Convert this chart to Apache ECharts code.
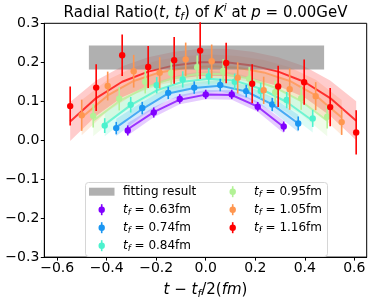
<!DOCTYPE html>
<html><head><meta charset="utf-8">
<script src="https://cdn.jsdelivr.net/npm/echarts@6/dist/echarts.min.js"></script>
<style>html,body{margin:0;padding:0;background:#fff}#c{width:373px;height:305px}</style>
</head><body><div id="c"></div>
<script>
// ---------- data ----------
const tfLabels = ['0.63', '0.74', '0.84', '0.95', '1.05', '1.16'];
const colors = ['#8000ff', '#1a96f2', '#4cf2ce', '#b2f296', '#ff964f', '#ff0000'];

const tau063 = [-0.315, -0.21, -0.105, 0.0, 0.105, 0.21, 0.315];
const val063 = [0.025, 0.071, 0.106, 0.1175, 0.1175, 0.086, 0.035];
const err063 = [0.013, 0.013, 0.012, 0.012, 0.012, 0.012, 0.013];
const fit063 = [0.028, 0.072, 0.104, 0.117, 0.116, 0.086, 0.034];
const band063 = [0.016, 0.013, 0.012, 0.012, 0.012, 0.013, 0.016];

const tau074 = [-0.3615, -0.2565, -0.1515, -0.0465, 0.0585, 0.1635, 0.2685, 0.3735];
const val074 = [0.031, 0.0825, 0.1215, 0.135, 0.1415, 0.126, 0.0915, 0.043];
const err074 = [0.016, 0.016, 0.016, 0.016, 0.016, 0.016, 0.017, 0.018];
const fit074 = [0.033, 0.080, 0.120, 0.134, 0.140, 0.125, 0.092, 0.043];
const band074 = [0.022, 0.018, 0.016, 0.015, 0.015, 0.016, 0.018, 0.022];

const tau084 = [-0.408, -0.303, -0.198, -0.093, 0.012, 0.117, 0.222, 0.327, 0.432];
const val084 = [0.0375, 0.091, 0.141, 0.156, 0.164, 0.150, 0.1265, 0.103, 0.056];
const err084 = [0.019, 0.02, 0.021, 0.021, 0.021, 0.021, 0.021, 0.021, 0.022];
const fit084 = [0.040, 0.090, 0.128, 0.150, 0.158, 0.153, 0.132, 0.098, 0.050];
const band084 = [0.030, 0.026, 0.022, 0.020, 0.020, 0.020, 0.022, 0.026, 0.030];

const tau095 = [-0.4545, -0.3495, -0.2445, -0.1395, -0.0345, 0.0705, 0.1755, 0.2805, 0.3855, 0.4905];
const val095 = [0.0625, 0.1065, 0.150, 0.1725, 0.1875, 0.178, 0.158, 0.123, 0.108, 0.060];
const err095 = [0.03, 0.03, 0.03, 0.03, 0.03, 0.03, 0.03, 0.03, 0.03, 0.03];
const fit095 = [0.050, 0.100, 0.135, 0.158, 0.170, 0.170, 0.158, 0.135, 0.100, 0.050];
const band095 = [0.040, 0.034, 0.030, 0.027, 0.025, 0.025, 0.027, 0.030, 0.034, 0.040];

const tau105 = [-0.501, -0.396, -0.291, -0.186, -0.081, 0.024, 0.129, 0.234, 0.339, 0.444, 0.549];
const val105 = [0.064, 0.139, 0.177, 0.173, 0.2075, 0.2025, 0.160, 0.128, 0.131, 0.113, 0.0465];
const err105 = [0.040, 0.037, 0.042, 0.040, 0.043, 0.043, 0.040, 0.035, 0.053, 0.036, 0.033];
const fit105 = [0.058, 0.115, 0.152, 0.174, 0.186, 0.190, 0.186, 0.174, 0.152, 0.115, 0.058];
const band105 = [0.045, 0.040, 0.035, 0.032, 0.030, 0.030, 0.030, 0.032, 0.035, 0.040, 0.045];

const tau116 = [-0.5475, -0.4425, -0.3375, -0.2325, -0.1275, -0.0225, 0.0825, 0.1875, 0.2925, 0.3975, 0.5025, 0.6075];
const val116 = [0.0875, 0.135, 0.218, 0.188, 0.205, 0.230, 0.198, 0.145, 0.138, 0.149, 0.085, 0.020];
const err116 = [0.050, 0.060, 0.053, 0.054, 0.060, 0.073, 0.052, 0.050, 0.053, 0.058, 0.049, 0.057];
const fit116 = [0.048, 0.108, 0.150, 0.176, 0.192, 0.200, 0.200, 0.192, 0.176, 0.150, 0.108, 0.050];
const band116 = [0.050, 0.045, 0.040, 0.037, 0.035, 0.035, 0.035, 0.035, 0.037, 0.040, 0.045, 0.050];

const fitRangeX = [-0.472, 0.478];
const fitRangeY = [0.1815, 0.243];

const xTicks = [-0.6, -0.4, -0.2, 0.0, 0.2, 0.4, 0.6];

const groups = [
  [tau063, val063, err063, fit063, band063],
  [tau074, val074, err074, fit074, band074],
  [tau084, val084, err084, fit084, band084],
  [tau095, val095, err095, fit095, band095],
  [tau105, val105, err105, fit105, band105],
  [tau116, val116, err116, fit116, band116]
];

// ---------- helpers ----------
function rgba(hex, a) {
  const r = parseInt(hex.slice(1, 3), 16), g = parseInt(hex.slice(3, 5), 16), b = parseInt(hex.slice(5, 7), 16);
  return 'rgba(' + r + ',' + g + ',' + b + ',' + a + ')';
}
function fmt(v) {
  const s = Math.abs(v).toFixed(1);
  return (v < -1e-9 ? '\u2212' : '') + s;
}
const FONT = 'DejaVu Sans';

const series = [];
groups.forEach((g, k) => {
  const [tau, val, err, fit, band] = g;
  const col = colors[k];
  // band
  series.push({
    type: 'custom', z: 1, silent: true,
    data: tau.map((t, i) => [t, fit[i] - band[i], fit[i] + band[i]]),
    encode: { x: 0, y: [1, 2] },
    renderItem: function (params, api) {
      if (params.dataIndex !== 0) return null;
      const up = [], lo = [];
      for (let i = 0; i < tau.length; i++) {
        up.push(api.coord([tau[i], fit[i] + band[i]]));
        lo.push(api.coord([tau[i], fit[i] - band[i]]));
      }
      return { type: 'polygon', shape: { points: up.concat(lo.reverse()) }, style: { fill: rgba(col, 0.2) } };
    }
  });
  // fit line
  series.push({
    type: 'line', z: 2, silent: true, showSymbol: false, symbol: 'none',
    data: tau.map((t, i) => [t, fit[i]]),
    lineStyle: { color: col, width: 2, opacity: 0.75 }
  });
  // error bars + points
  series.push({
    type: 'custom', z: 5, silent: true,
    data: tau.map((t, i) => [t, val[i], err[i]]),
    encode: { x: 0, y: 1 },
    renderItem: function (params, api) {
      const x = api.value(0), y = api.value(1), e = api.value(2);
      const p = api.coord([x, y]), a = api.coord([x, y - e]), b = api.coord([x, y + e]);
      return {
        type: 'group', children: [
          { type: 'line', shape: { x1: p[0], y1: a[1], x2: p[0], y2: b[1] }, style: { stroke: col, lineWidth: 1.6 } },
          { type: 'circle', shape: { cx: p[0], cy: p[1], r: 3.2 }, style: { fill: col } }
        ]
      };
    }
  });
});
// fitting result box
series.push({
  type: 'custom', z: 3, silent: true,
  data: [[fitRangeX[0], fitRangeX[1], fitRangeY[0], fitRangeY[1]]],
  encode: { x: [0, 1], y: [2, 3] },
  renderItem: function (params, api) {
    const a = api.coord([api.value(0), api.value(3)]);
    const b = api.coord([api.value(1), api.value(2)]);
    return { type: 'rect', shape: { x: a[0], y: a[1], width: b[0] - a[0], height: b[1] - a[1] }, style: { fill: 'rgba(128,128,128,0.62)' } };
  }
});

// ---------- legend (graphic) ----------
const richLeg = {
  i: { fontStyle: 'italic', fontSize: 12, fontFamily: FONT, lineHeight: 16, fill: '#000' },
  sub: { fontStyle: 'italic', fontSize: 8.5, fontFamily: FONT, lineHeight: 10, verticalAlign: 'bottom', fill: '#000' }
};
const legendEls = [];
legendEls.push({ type: 'rect', shape: { x: 85.5, y: 182.5, width: 242, height: 74, r: 3 }, style: { fill: 'rgba(255,255,255,0.8)', stroke: '#d6d6d6', lineWidth: 1 }, z: 100 });
const legendItems = [{ label: 'fitting result', box: true }].concat(tfLabels.map((t, k) => ({ label: '{i|t}{sub|f} = ' + t + 'fm', color: colors[k] })));
legendItems.forEach((it, n) => {
  const col = n < 4 ? 0 : 1, row = n < 4 ? n : n - 4;
  const hx = col === 0 ? 101.7 : 232.7, tx = col === 0 ? 123 : 254;
  const cy = 191.7 + row * 18;
  if (it.box) {
    legendEls.push({ type: 'rect', shape: { x: 89, y: cy - 4, width: 25.5, height: 8 }, style: { fill: 'rgba(128,128,128,0.62)' }, z: 101 });
  } else {
    legendEls.push({ type: 'line', shape: { x1: hx, y1: cy - 5.5, x2: hx, y2: cy + 5.5 }, style: { stroke: it.color, lineWidth: 1.6 }, z: 101 });
    legendEls.push({ type: 'circle', shape: { cx: hx, cy: cy, r: 3.2 }, style: { fill: it.color }, z: 101 });
  }
  legendEls.push({ type: 'text', x: tx, y: cy, z: 101, style: { text: it.label, rich: richLeg, fontSize: 12, fontFamily: FONT, lineHeight: 16, fill: '#000', align: 'left', verticalAlign: 'middle' } });
});

// title
const titleEl = {
  type: 'text', x: 205.5, y: 13, z: 100,
  style: {
    text: 'Radial Ratio({i|t}, {i|t}{sub|f}) of {i|K}{sup|i} at {i|p} = 0.00GeV',
    rich: {
      i: { fontStyle: 'italic', fontSize: 15, fontFamily: FONT, lineHeight: 20, fill: '#000' },
      sub: { fontStyle: 'italic', fontSize: 10.5, fontFamily: FONT, lineHeight: 12, verticalAlign: 'bottom', fill: '#000' },
      sup: { fontStyle: 'italic', fontSize: 10.5, fontFamily: FONT, lineHeight: 12, verticalAlign: 'top', fill: '#000' }
    },
    fontSize: 15, fontFamily: FONT, lineHeight: 20, fill: '#000', align: 'center', verticalAlign: 'middle'
  }
};

const chart = echarts.init(document.getElementById('c'), null, { renderer: 'canvas' });
chart.setOption({
  animation: false,
  backgroundColor: '#fff',
  grid: { left: 44.3, right: 6.3, top: 23.3, bottom: 41.7, show: true, borderColor: '#000', borderWidth: 1, containLabel: false },
  xAxis: {
    type: 'value', min: -0.652, max: 0.650,
    splitLine: { show: false },
    axisLine: { show: true, onZero: false, lineStyle: { color: '#000', width: 1 } },
    axisTick: { show: true, length: 3.5, lineStyle: { color: '#000' }, customValues: xTicks },
    axisLabel: { customValues: xTicks, formatter: fmt, color: '#000', fontSize: 14, fontFamily: FONT, margin: 4 },
    name: '{i|t} \u2212 {i|t}{sub|f}/2({i|fm})',
    nameLocation: 'middle', nameGap: 19,
    nameTextStyle: {
      color: '#000', fontSize: 15, fontFamily: FONT, lineHeight: 20,
      rich: {
        i: { fontStyle: 'italic', fontSize: 15, fontFamily: FONT, lineHeight: 20, color: '#000' },
        sub: { fontStyle: 'italic', fontSize: 10.5, fontFamily: FONT, lineHeight: 12, verticalAlign: 'bottom', color: '#000' }
      }
    }
  },
  yAxis: {
    type: 'value', min: -0.3, max: 0.3, interval: 0.1,
    splitLine: { show: false },
    axisLine: { show: true, onZero: false, lineStyle: { color: '#000', width: 1 } },
    axisTick: { show: true, length: 3.5, lineStyle: { color: '#000' } },
    axisLabel: { formatter: fmt, color: '#000', fontSize: 14, fontFamily: FONT, margin: 5 }
  },
  graphic: [titleEl].concat(legendEls),
  series: series
});
</script>
</body></html>
